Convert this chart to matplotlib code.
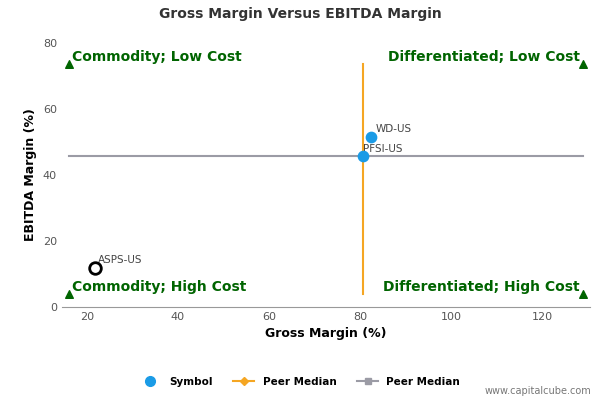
import matplotlib.pyplot as plt
from matplotlib.lines import Line2D

symbols = ["WD-US", "PFSI-US"]
sym_x = [82.5, 80.7]
sym_y = [51.5, 45.8]
hollow_name = "ASPS-US"
hollow_x = [21.7]
hollow_y = [11.7]
median_x = 80.7
median_y = 45.8
tri_x = [16, 129, 16, 129]
tri_y = [73.5, 73.5, 4, 4]

fig = plt.figure(figsize=(6, 4), dpi=100)
ax = fig.add_axes([0.103, 0.2325, 0.88, 0.66])
ax.set_xlim(14.5, 130.5)
ax.set_ylim(0, 80)

ax.plot([median_x, median_x], [4, 73.5], color="#f5a623", lw=1.5, zorder=2)
ax.plot([16, 129], [median_y, median_y], color="#9b9ba5", lw=1.5, zorder=2)
ax.scatter(tri_x, tri_y, marker="^", color="#006400", s=30, zorder=3)
ax.scatter(sym_x, sym_y, color="#1a9be6", s=55, zorder=4)
ax.scatter(hollow_x, hollow_y, facecolor="white", edgecolor="black", lw=2, s=70, zorder=4)
ax.text(83.5, 53, symbols[0], fontsize=7.5, color="#444444")
ax.text(80.6, 47, symbols[1], fontsize=7.5, color="#444444")
ax.text(22.5, 13.2, hollow_name, fontsize=7.5, color="#444444")

g = dict(color="#006400", fontsize=10, fontweight="bold")
ax.text(16.8, 74.5, "Commodity; Low Cost", ha="left", **g)
ax.text(128.3, 74.5, "Differentiated; Low Cost", ha="right", **g)
ax.text(16.8, 5, "Commodity; High Cost", ha="left", **g)
ax.text(128.3, 5, "Differentiated; High Cost", ha="right", **g)

ax.set_xticks([20, 40, 60, 80, 100, 120])
ax.set_yticks([0, 20, 40, 60, 80])
ax.tick_params(labelsize=8, colors="#555555", length=0)
for s in ["top", "right", "left"]:
    ax.spines[s].set_visible(False)
ax.spines["bottom"].set_color("#999999")
ax.set_xlabel("Gross Margin (%)", fontsize=9, fontweight="bold")
ax.set_ylabel("EBITDA Margin (%)", fontsize=9, fontweight="bold")
fig.text(0.5, 0.955, "Gross Margin Versus EBITDA Margin", ha="center", fontsize=10,
         fontweight="bold", color="#333333")

h = [Line2D([], [], marker="o", color="#1a9be6", ls="none", ms=7),
     Line2D([], [], marker="D", color="#f5a623", ms=4, lw=1.5),
     Line2D([], [], marker="s", color="#9b9ba5", ms=5, lw=1.5)]
fig.legend(h, ["Symbol", "Peer Median", "Peer Median"], loc="center", bbox_to_anchor=(0.5, 0.045),
           ncol=3, frameon=False, prop={"size": 7.5, "weight": "bold"}, handlelength=2, columnspacing=2)
fig.text(0.985, 0.015, "www.capitalcube.com", ha="right", fontsize=7, color="#777777")
fig.savefig("out.png")
